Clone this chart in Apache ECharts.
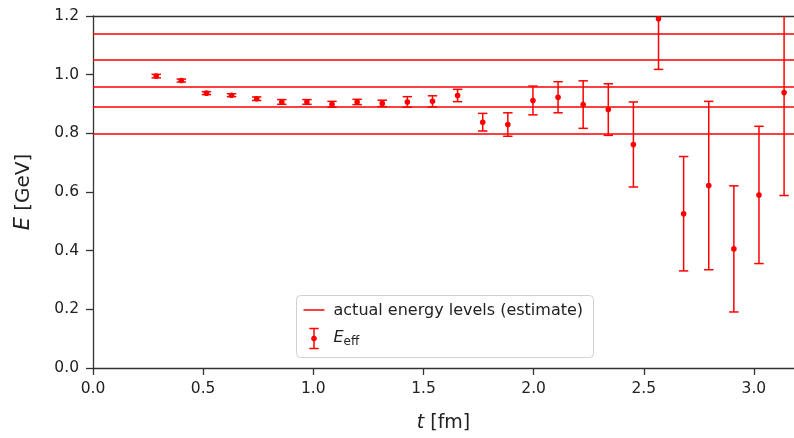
<!DOCTYPE html>
<html>
<head>
<meta charset="utf-8">
<script src="https://cdn.jsdelivr.net/npm/echarts@6/dist/echarts.min.js"></script>
<style>
  html, body { margin: 0; padding: 0; background: #fff; }
  #chart { width: 794px; height: 438px; }
</style>
</head>
<body>
<div id="chart"></div>
<script>
// Euclidean times of the effective-energy points [fm]
const tFm = [0.287, 0.401, 0.515, 0.629, 0.743, 0.857, 0.971, 1.085, 1.199, 1.313,
             1.427, 1.541, 1.655, 1.769, 1.883, 1.997, 2.111, 2.225, 2.339, 2.453,
             2.567, 2.681, 2.795, 2.909, 3.023, 3.137];
// Effective energy E_eff(t) [GeV]
const eEff = [0.995, 0.980, 0.937, 0.930, 0.918, 0.907, 0.907, 0.899, 0.907, 0.902,
              0.907, 0.909, 0.929, 0.838, 0.830, 0.912, 0.923, 0.898, 0.881, 0.762,
              1.191, 0.526, 0.622, 0.406, 0.590, 0.939];
// Statistical uncertainty of E_eff [GeV]
const eErr = [0.006, 0.005, 0.005, 0.005, 0.006, 0.008, 0.008, 0.010, 0.009, 0.011,
              0.018, 0.019, 0.021, 0.030, 0.040, 0.049, 0.053, 0.081, 0.088, 0.145,
              0.173, 0.195, 0.287, 0.215, 0.234, 0.351];
// Estimated energy levels of the spectrum [GeV]
const levels = [0.801, 0.885, 0.961, 1.050, 1.142];
// Axis tick positions and labels
const xTickVals = [0, 0.5, 1.0, 1.5, 2.0, 2.5, 3.0];
const xTicks = ['0.0', '0.5', '1.0', '1.5', '2.0', '2.5', '3.0'];
const yTicks = ['0.0', '0.2', '0.4', '0.6', '0.8', '1.0', '1.2'];

const RED = '#ff0000';
const AXIS = '#333333';
const FONT = 'DejaVu Sans';

const chart = echarts.init(document.getElementById('chart'), null, { renderer: 'canvas' });

const points = tFm.map((t, i) => [t, eEff[i], eErr[i]]);

function renderErrorBar(params, api) {
  const x = api.value(0), y = api.value(1), e = api.value(2);
  const c = api.coord([x, y]);
  const hi = api.coord([x, y + e]);
  const lo = api.coord([x, y - e]);
  const hw = 4.7;
  const st = { stroke: RED, lineWidth: 1.5 };
  return {
    type: 'group',
    children: [
      { type: 'line', shape: { x1: c[0], y1: hi[1], x2: c[0], y2: lo[1] }, style: st },
      { type: 'line', shape: { x1: c[0] - hw, y1: hi[1], x2: c[0] + hw, y2: hi[1] }, style: st },
      { type: 'line', shape: { x1: c[0] - hw, y1: lo[1], x2: c[0] + hw, y2: lo[1] }, style: st },
      { type: 'circle', shape: { cx: c[0], cy: c[1], r: 2.8 }, style: { fill: RED } }
    ]
  };
}

const xMax = 3.182;

chart.setOption({
  animation: false,
  backgroundColor: '#ffffff',
  grid: { left: 93, right: 0, top: 16, bottom: 70 },
  xAxis: [{
    type: 'value', min: 0, max: xMax, interval: 0.5,
    name: '{i|t} [fm]', nameLocation: 'middle', nameGap: 46,
    nameTextStyle: {
      fontFamily: FONT, fontSize: 19, color: '#222',
      rich: { i: { fontFamily: FONT, fontStyle: 'italic', fontSize: 19, color: '#222' } }
    },
    axisLine: { show: true, lineStyle: { color: AXIS, width: 1.3 } },
    axisTick: { show: true, length: 7, customValues: xTickVals, lineStyle: { color: AXIS, width: 1.3 } },
    axisLabel: {
      margin: 13, fontFamily: FONT, fontSize: 15.5, color: '#222',
      customValues: xTickVals,
      formatter: v => xTicks[Math.round(v / 0.5)]
    },
    splitLine: { show: false }
  }, {
    type: 'value', position: 'top', min: 0, max: xMax,
    axisLine: { show: true, lineStyle: { color: AXIS, width: 1.3 } },
    axisTick: { show: false }, axisLabel: { show: false }, splitLine: { show: false }
  }],
  yAxis: {
    type: 'value', min: 0, max: 1.2, interval: 0.2,
    name: '{i|E} [GeV]', nameLocation: 'middle', nameGap: 59, nameRotate: 90,
    nameTextStyle: {
      fontFamily: FONT, fontSize: 20, color: '#222',
      rich: { i: { fontFamily: FONT, fontStyle: 'italic', fontSize: 21, color: '#222' } }
    },
    axisLine: { show: true, lineStyle: { color: AXIS, width: 1.3 } },
    axisTick: { show: true, length: 7, lineStyle: { color: AXIS, width: 1.3 } },
    axisLabel: {
      margin: 14, fontFamily: FONT, fontSize: 15.5, color: '#222',
      formatter: v => yTicks[Math.round(v / 0.2)]
    },
    splitLine: { show: false }
  },
  series: [{
    name: 'actual energy levels (estimate)',
    type: 'line',
    data: [],
    markLine: {
      silent: true,
      symbol: ['none', 'none'],
      label: { show: false },
      lineStyle: { color: RED, width: 1.5, type: 'solid' },
      data: levels.map(v => ({ yAxis: v }))
    }
  }, {
    name: 'E_eff',
    type: 'custom',
    clip: true,
    renderItem: renderErrorBar,
    encode: { x: 0, y: 1 },
    data: points,
    z: 3
  }],
  graphic: [{
    type: 'group',
    left: 296, top: 295,
    children: [
      { type: 'rect', shape: { x: 0, y: 0, width: 297, height: 62, r: 4 },
        style: { fill: 'rgba(255,255,255,0.85)', stroke: '#d0d0d0', lineWidth: 1 } },
      { type: 'line', shape: { x1: 7, y1: 14.5, x2: 28, y2: 14.5 },
        style: { stroke: RED, lineWidth: 1.5 } },
      { type: 'text', x: 37, y: 15,
        style: { text: 'actual energy levels (estimate)', fontFamily: FONT, fontSize: 16,
                 fill: '#222', verticalAlign: 'middle' } },
      { type: 'line', shape: { x1: 17.5, y1: 33, x2: 17.5, y2: 53 }, style: { stroke: RED, lineWidth: 1.5 } },
      { type: 'line', shape: { x1: 12.8, y1: 33, x2: 22.2, y2: 33 }, style: { stroke: RED, lineWidth: 1.5 } },
      { type: 'line', shape: { x1: 12.8, y1: 53, x2: 22.2, y2: 53 }, style: { stroke: RED, lineWidth: 1.5 } },
      { type: 'circle', shape: { cx: 17.5, cy: 43, r: 2.8 }, style: { fill: RED } },
      { type: 'text', x: 37, y: 42,
        style: { text: '{i|E}{s|eff}', verticalAlign: 'middle',
                 rich: {
                   i: { fontFamily: FONT, fontStyle: 'italic', fontSize: 16, fill: '#222' },
                   s: { fontFamily: FONT, fontSize: 12, fill: '#222', padding: [8, 0, 0, 0] }
                 } } }
    ]
  }]
});
</script>
</body>
</html>
